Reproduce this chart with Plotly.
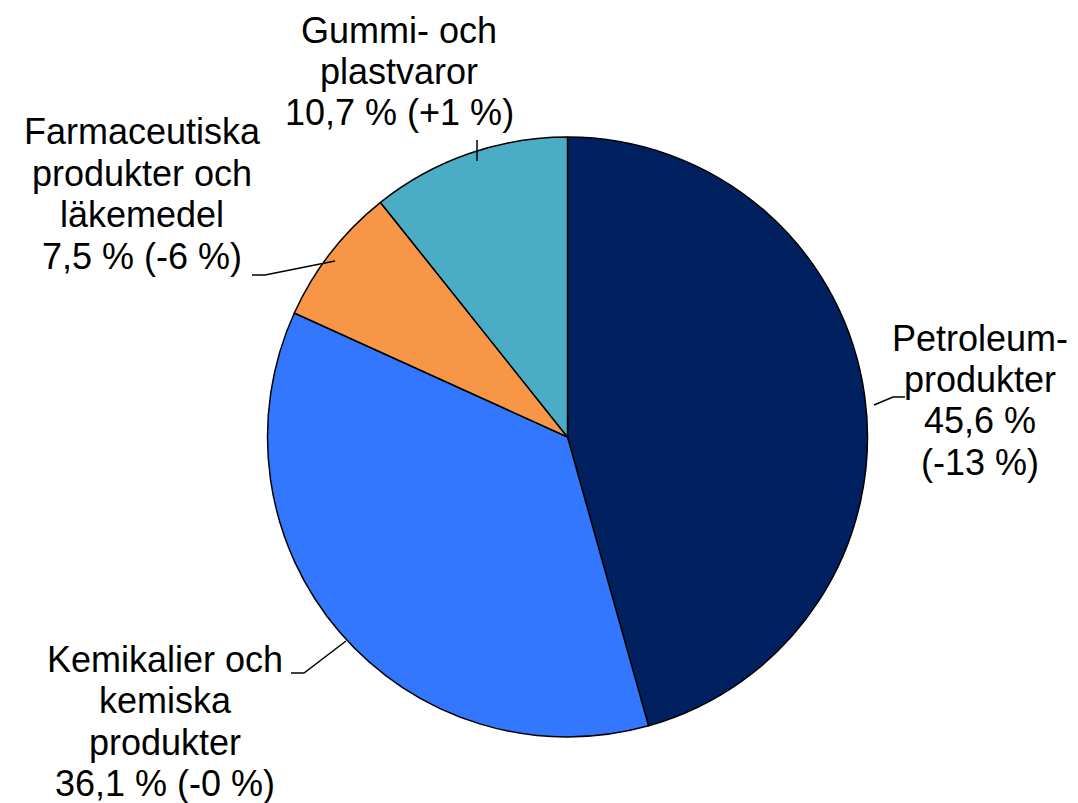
import plotly.graph_objects as go

W, H = 1078, 803

kategorier = ['Petroleumprodukter', 'Kemikalier och kemiska produkter',
              'Farmaceutiska produkter och läkemedel', 'Gummi- och plastvaror']
andelar = [45.6, 36.1, 7.5, 10.7]
forandring = ['(-13 %)', '(-0 %)', '(-6 %)', '(+1 %)']
farger = ['#002060', '#3377FF', '#F79646', '#4BACC6']


def px(x, y):
    # pixel -> paper
    return x / W, 1 - y / H


def fmt(v):
    return f'{v:.1f}'.replace('.', ',') + ' %'


etikettrader = [
    ['Petroleum-', 'produkter', fmt(andelar[0]), forandring[0]],
    ['Kemikalier och', 'kemiska', 'produkter', fmt(andelar[1]) + ' ' + forandring[1]],
    ['Farmaceutiska', 'produkter och', 'läkemedel', fmt(andelar[2]) + ' ' + forandring[2]],
    ['Gummi- och', 'plastvaror', fmt(andelar[3]) + ' ' + forandring[3]],
]
# label block: centre x, first line centre y (pixels)
lab_pos = [(972, 330), (157, 651), (134, 124), (391, 22)]
RAD = 41.5

# leader lines (pixel polylines)
ledare = [
    [(866, 397), (885, 389), (897, 389)],
    [(283, 665), (296, 665), (338, 633)],
    [(244, 267), (257, 267), (327, 253)],
    [(469, 132), (469, 153)],
]

cx, cy, r = 559.5, 429, 300
x0, _ = px(cx - r, 0)
x1, _ = px(cx + r, 0)
_, y1 = px(0, cy - r)
_, y0 = px(0, cy + r)

fig = go.Figure(go.Pie(
    values=andelar,
    labels=kategorier,
    sort=False,
    direction='clockwise',
    rotation=0,
    marker=dict(colors=farger, line=dict(color='black', width=1.5)),
    textinfo='none',
    hoverinfo='label+percent',
    domain=dict(x=[x0, x1], y=[y0, y1]),
    showlegend=False,
))

font = dict(family='Liberation Sans, Arial, sans-serif', size=36, color='black')
for rader, (lx, ly) in zip(etikettrader, lab_pos):
    for i, rad in enumerate(rader):
        ax, ay = px(lx, ly + i * RAD)
        fig.add_annotation(x=ax, y=ay, xref='paper', yref='paper', text=rad,
                           showarrow=False, font=font, align='center',
                           xanchor='center', yanchor='middle', borderpad=0)

for pts in ledare:
    path = ''
    for i, (x, y) in enumerate(pts):
        px_, py_ = px(x, y)
        path += ('M' if i == 0 else 'L') + f'{px_},{py_} '
    fig.add_shape(type='path', path=path, xref='paper', yref='paper',
                  line=dict(color='black', width=1.5))

fig.update_layout(width=W, height=H, margin=dict(l=0, r=0, t=0, b=0),
                  paper_bgcolor='white', plot_bgcolor='white')

fig.write_html('out.html')
